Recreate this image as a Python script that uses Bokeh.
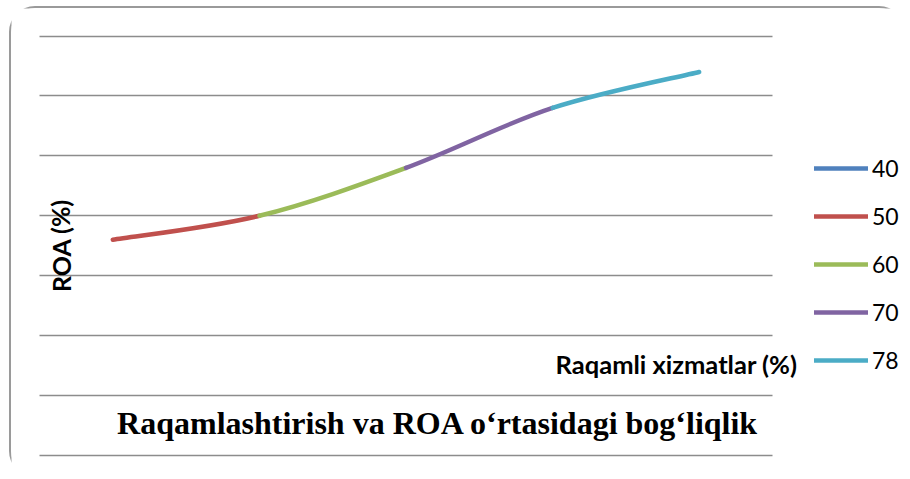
from bokeh.plotting import figure
from bokeh.models import Range1d, FixedTicker, Label, Legend, LegendItem
from bokeh.embed import file_html
from bokeh.resources import INLINE

# ---- data ----
series = ["40", "50", "60", "70", "78"]
roa = [1.8, 2.0, 2.4, 2.9, 3.2]
colors = ["#4F81BD", "#C0504D", "#9BBB59", "#8064A2", "#4BACC6"]
y_ticks = [0, 0.5, 1.0, 1.5, 2.0, 2.5, 3.0, 3.5]
title_text = "Raqamlashtirish va ROA o\u2018rtasidagi bog\u2018liqlik"
x_title = "Raqamli xizmatlar (%)"
y_title = "ROA (%)"

xs = list(range(1, len(roa) + 1))
n = len(roa)

# ---- layout (pixels) ----
W, H = 896, 471                 # canvas size
area_left, area_right = 28, 761  # plot area inside canvas
area_top, area_bottom = 27.5, 447
y_min, y_max = y_ticks[0], y_ticks[-1]
x_lo, x_hi = 0.5, n + 0.5
ux = (x_hi - x_lo) / (area_right - area_left)
uy = (y_max - y_min) / (area_bottom - area_top)

p = figure(width=W, height=H, output_backend="svg", toolbar_location=None,
           x_range=Range1d(x_lo - area_left * ux, x_hi + (W - area_right) * ux),
           y_range=Range1d(y_min - (H - area_bottom) * uy, y_max + area_top * uy),
           min_border_left=0, min_border_right=0, min_border_top=0, min_border_bottom=0,
           styles={"margin": "6px 0 0 9px",
                   "border-top": "2px solid #9a9a9a", "border-left": "2px solid #9a9a9a",
                   "border-right": "0px solid #9a9a9a", "border-bottom": "0px solid #9a9a9a",
                   "border-top-left-radius": "26px", "border-top-right-radius": "26px",
                   "border-bottom-left-radius": "26px"})
p.xaxis.visible = False
p.yaxis.visible = False
p.xgrid.visible = False
p.ygrid.ticker = FixedTicker(ticks=y_ticks)
p.ygrid.cross_bounds = (x_lo, x_hi)
p.ygrid.grid_line_color = "#8c8c8c"
p.ygrid.grid_line_width = 1.5
p.outline_line_color = None
p.background_fill_color = "white"
p.border_fill_color = "white"

renderers = []
r0 = p.line([xs[0]], [roa[0]], line_color=colors[0], line_width=4.5, line_cap="round")
renderers.append(r0)
for i in range(n - 1):
    x0p, y0p = (xs[i - 1], roa[i - 1]) if i > 0 else (xs[i], roa[i])
    x1p, y1p = xs[i], roa[i]
    x2p, y2p = xs[i + 1], roa[i + 1]
    x3p, y3p = (xs[i + 2], roa[i + 2]) if i + 2 < n else (xs[i + 1], roa[i + 1])
    cx0 = x1p + (x2p - x0p) / 6.0
    cy0 = y1p + (y2p - y0p) / 6.0
    cx1 = x2p - (x3p - x1p) / 6.0
    cy1 = y2p - (y3p - y1p) / 6.0
    r = p.bezier(x0=[x1p], y0=[y1p], x1=[x2p], y1=[y2p], cx0=[cx0], cy0=[cy0],
                 cx1=[cx1], cy1=[cy1], line_color=colors[i + 1], line_width=4.5,
                 line_cap="round")
    renderers.append(r)

legend = Legend(items=[LegendItem(label=s, renderers=[r]) for s, r in zip(series, renderers)],
                location=(803, 105), padding=0, margin=0, spacing=20,
                glyph_width=54, glyph_height=20, label_standoff=4,
                label_text_font="Lato", label_text_font_size="23px",
                label_text_color="black", border_line_color=None,
                background_fill_alpha=0)
p.add_layout(legend)

p.add_layout(Label(x=426.5, y=57, x_units="screen", y_units="screen", text=title_text,
                   text_font="Liberation Serif", text_font_style="bold",
                   text_font_size="32px", text_align="center", text_baseline="middle",
                   text_color="black"))
p.add_layout(Label(x=786, y=116, x_units="screen", y_units="screen", text=x_title,
                   text_font="Lato", text_font_style="bold", text_font_size="25.5px",
                   text_align="right", text_baseline="middle", text_color="black"))
p.add_layout(Label(x=49, y=234, x_units="screen", y_units="screen", text=y_title,
                   text_font="Lato", text_font_style="bold", text_font_size="25px",
                   text_align="center", text_baseline="middle", angle=1.5708,
                   text_color="black"))

open("out.html", "w").write(file_html(p, INLINE))
